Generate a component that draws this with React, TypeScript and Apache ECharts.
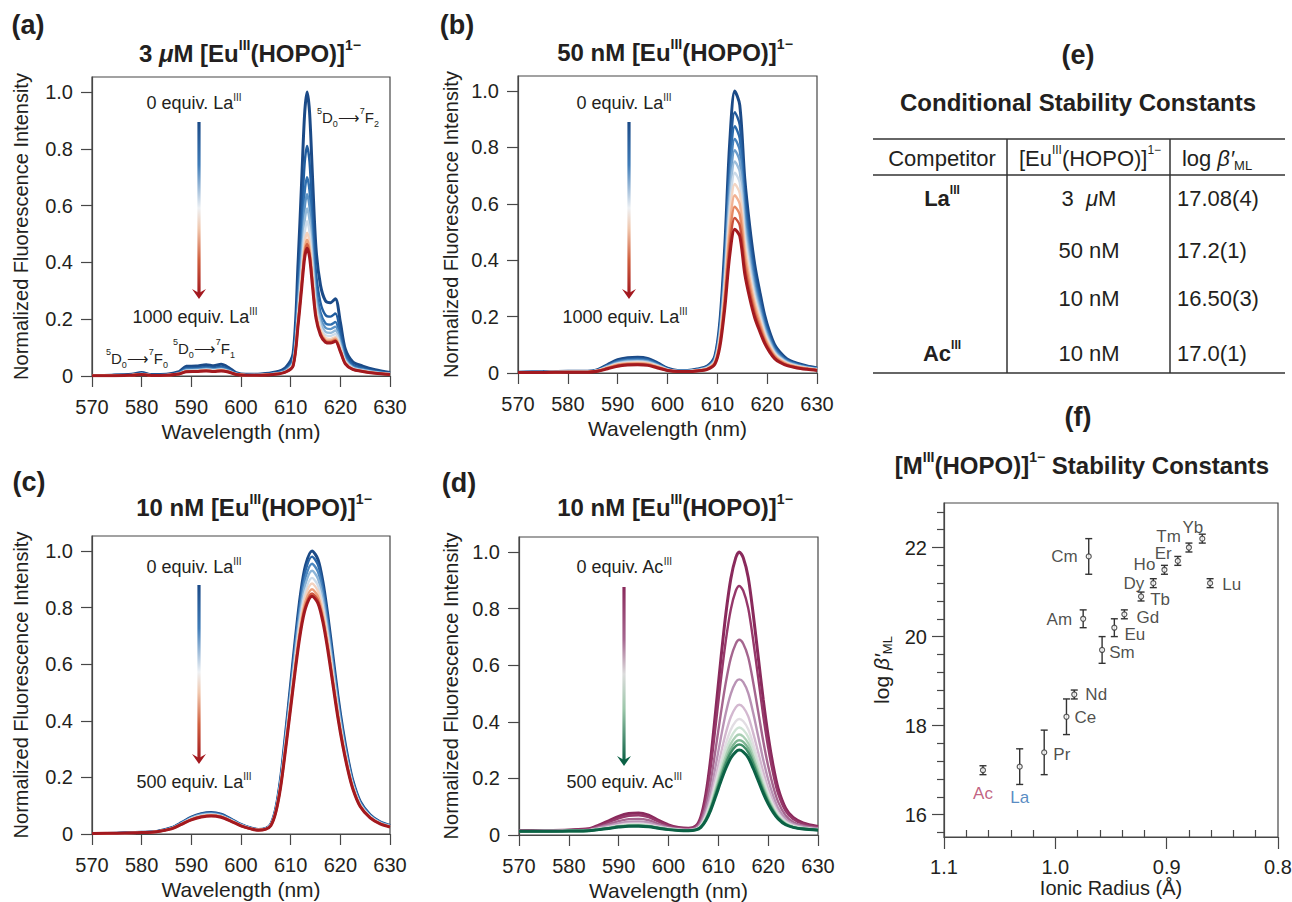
import React, { useEffect, useRef } from 'react';
import * as echarts from 'echarts';

const FONT = "'Liberation Sans', Arial, Helvetica, sans-serif";
const INK = '#231f20';
const AX = '#474747';

// ---------------- Panel (a): 3 uM, La titration ----------------
const wavelengthsA = [570,574,578,580,582,585,587.5,589,591,593,594.5,596,597.5,599,601,604,607,609,610.5,611.5,612.2,612.8,613.3,613.8,614.4,615.1,616,617,618,619,620,621,622.5,624.5,627,630];
const spectraA = [
  [0.002,0.003,0.006,0.012,0.005,0.006,0.015,0.034,0.035,0.040,0.036,0.041,0.030,0.012,0.006,0.007,0.014,0.030,0.080,0.400,0.680,0.920,1.000,0.930,0.700,0.450,0.320,0.265,0.258,0.272,0.190,0.095,0.050,0.035,0.022,0.012],
  [0.002,0.003,0.005,0.010,0.004,0.005,0.012,0.028,0.028,0.032,0.029,0.033,0.024,0.010,0.005,0.006,0.011,0.024,0.065,0.324,0.551,0.745,0.810,0.753,0.567,0.365,0.259,0.215,0.209,0.220,0.154,0.077,0.041,0.028,0.018,0.010],
  [0.002,0.003,0.004,0.008,0.004,0.004,0.011,0.024,0.025,0.028,0.025,0.029,0.021,0.008,0.004,0.005,0.010,0.021,0.056,0.280,0.476,0.644,0.700,0.651,0.490,0.315,0.224,0.186,0.181,0.190,0.133,0.067,0.035,0.025,0.015,0.008],
  [0.002,0.002,0.004,0.008,0.003,0.004,0.010,0.022,0.022,0.026,0.023,0.026,0.019,0.008,0.004,0.004,0.009,0.019,0.051,0.256,0.435,0.589,0.640,0.595,0.448,0.288,0.205,0.170,0.165,0.174,0.122,0.061,0.032,0.022,0.014,0.008],
  [0.001,0.002,0.004,0.007,0.003,0.004,0.009,0.020,0.021,0.024,0.021,0.024,0.018,0.007,0.004,0.004,0.008,0.018,0.047,0.236,0.401,0.543,0.590,0.549,0.413,0.266,0.189,0.156,0.152,0.160,0.112,0.056,0.030,0.021,0.013,0.007],
  [0.001,0.002,0.003,0.007,0.003,0.003,0.008,0.019,0.019,0.022,0.020,0.022,0.016,0.007,0.003,0.004,0.008,0.016,0.044,0.218,0.371,0.501,0.545,0.507,0.382,0.245,0.174,0.144,0.141,0.148,0.104,0.052,0.027,0.019,0.012,0.007],
  [0.001,0.002,0.003,0.006,0.003,0.003,0.008,0.017,0.018,0.020,0.018,0.021,0.015,0.006,0.003,0.004,0.007,0.015,0.040,0.202,0.343,0.465,0.505,0.470,0.354,0.227,0.162,0.134,0.130,0.137,0.096,0.048,0.025,0.018,0.011,0.006],
  [0.001,0.001,0.003,0.006,0.002,0.003,0.007,0.016,0.017,0.019,0.017,0.020,0.014,0.006,0.003,0.003,0.007,0.014,0.038,0.192,0.326,0.442,0.480,0.446,0.336,0.216,0.154,0.127,0.124,0.131,0.091,0.046,0.024,0.017,0.011,0.006],
  [0.001,0.001,0.003,0.006,0.002,0.003,0.007,0.016,0.016,0.019,0.017,0.019,0.014,0.006,0.003,0.003,0.007,0.014,0.037,0.186,0.316,0.428,0.465,0.432,0.326,0.209,0.149,0.123,0.120,0.126,0.088,0.044,0.023,0.016,0.010,0.006],
  [0.001,0.001,0.003,0.005,0.002,0.003,0.007,0.015,0.016,0.018,0.016,0.018,0.014,0.005,0.003,0.003,0.006,0.014,0.036,0.180,0.306,0.414,0.450,0.419,0.315,0.203,0.144,0.119,0.116,0.122,0.086,0.043,0.023,0.016,0.010,0.005],
];
const colorsA = ['#1b4a87','#215d9f','#2f70b0','#5b93c6','#94bad9','#cddcea','#f4d1bb','#efa47c','#d3613f','#a3191f'];

// ---------------- Panel (b): 50 nM, La titration ----------------
const wavelengthsB = [570,575,580,584,586,588,590,592,594,596,598,600,602,604,606,608,609.5,610.5,611.5,612.5,613.5,614.5,615.5,616.5,617.5,618.5,619.5,620.5,621.5,622.5,624,626,628,630];
const spectraB = [
  [0.003,0.004,0.006,0.006,0.012,0.030,0.047,0.054,0.056,0.052,0.036,0.017,0.009,0.009,0.014,0.025,0.060,0.180,0.450,0.820,1.000,0.950,0.690,0.520,0.385,0.290,0.205,0.145,0.100,0.075,0.050,0.035,0.025,0.018],
  [0.003,0.004,0.006,0.006,0.011,0.028,0.043,0.050,0.052,0.048,0.033,0.016,0.008,0.008,0.013,0.023,0.056,0.167,0.416,0.759,0.925,0.879,0.638,0.481,0.356,0.268,0.190,0.134,0.093,0.069,0.046,0.032,0.023,0.017],
  [0.003,0.004,0.005,0.005,0.011,0.026,0.041,0.047,0.049,0.046,0.032,0.015,0.008,0.008,0.012,0.022,0.053,0.158,0.394,0.718,0.875,0.831,0.604,0.455,0.337,0.254,0.179,0.127,0.088,0.066,0.044,0.031,0.022,0.016],
  [0.002,0.003,0.005,0.005,0.010,0.025,0.039,0.045,0.046,0.043,0.030,0.014,0.007,0.007,0.012,0.021,0.050,0.149,0.374,0.681,0.830,0.789,0.573,0.432,0.320,0.241,0.170,0.120,0.083,0.062,0.042,0.029,0.021,0.015],
  [0.002,0.003,0.005,0.005,0.009,0.024,0.037,0.043,0.044,0.041,0.028,0.013,0.007,0.007,0.011,0.020,0.047,0.142,0.356,0.648,0.790,0.751,0.545,0.411,0.304,0.229,0.162,0.115,0.079,0.059,0.040,0.028,0.020,0.014],
  [0.002,0.003,0.005,0.005,0.009,0.023,0.035,0.041,0.042,0.039,0.027,0.013,0.007,0.007,0.011,0.019,0.045,0.135,0.338,0.615,0.750,0.713,0.518,0.390,0.289,0.218,0.154,0.109,0.075,0.056,0.038,0.026,0.019,0.014],
  [0.002,0.003,0.004,0.004,0.009,0.021,0.033,0.038,0.040,0.037,0.026,0.012,0.006,0.006,0.010,0.018,0.043,0.128,0.320,0.582,0.710,0.675,0.490,0.369,0.273,0.206,0.146,0.103,0.071,0.053,0.036,0.025,0.018,0.013],
  [0.002,0.003,0.004,0.004,0.008,0.020,0.031,0.036,0.038,0.035,0.024,0.011,0.006,0.006,0.009,0.017,0.040,0.121,0.302,0.549,0.670,0.637,0.462,0.348,0.258,0.194,0.137,0.097,0.067,0.050,0.034,0.023,0.017,0.012],
  [0.002,0.003,0.004,0.004,0.008,0.019,0.030,0.034,0.035,0.033,0.023,0.011,0.006,0.006,0.009,0.016,0.038,0.113,0.284,0.517,0.630,0.599,0.435,0.328,0.243,0.183,0.129,0.091,0.063,0.047,0.032,0.022,0.016,0.011],
  [0.002,0.002,0.004,0.004,0.007,0.018,0.028,0.032,0.033,0.031,0.021,0.010,0.005,0.005,0.008,0.015,0.035,0.106,0.266,0.484,0.590,0.561,0.407,0.307,0.227,0.171,0.121,0.086,0.059,0.044,0.030,0.021,0.015,0.011],
  [0.002,0.002,0.003,0.003,0.007,0.017,0.026,0.030,0.031,0.029,0.020,0.009,0.005,0.005,0.008,0.014,0.033,0.099,0.248,0.451,0.550,0.523,0.380,0.286,0.212,0.160,0.113,0.080,0.055,0.041,0.028,0.019,0.014,0.010],
  [0.002,0.002,0.003,0.003,0.006,0.015,0.024,0.028,0.029,0.027,0.018,0.009,0.005,0.005,0.007,0.013,0.031,0.092,0.230,0.418,0.510,0.485,0.352,0.265,0.196,0.148,0.105,0.074,0.051,0.038,0.026,0.018,0.013,0.009],
];
const colorsB = ['#1b4a87','#22599a','#2b6aab','#4682bd','#6c9dcb','#9dbedb','#cbdae8','#f3d5c3','#f2b293','#e58862','#c9503a','#a3191f'];

// ---------------- Panel (c): 10 nM, La titration ----------------
const wavelengthsC = [570,575,580,583,586,588,590,592,594,596,598,600,602,603.5,605,606,607,608,609,610,611,612,613,614.3,615.5,616.5,617.5,618.5,619.5,620.5,621.5,622.5,624,626,628,630];
const spectraC = [
  [0.002,0.003,0.006,0.009,0.022,0.040,0.060,0.072,0.076,0.070,0.053,0.034,0.021,0.016,0.020,0.035,0.090,0.200,0.360,0.530,0.700,0.850,0.950,1.000,0.970,0.890,0.770,0.630,0.490,0.370,0.270,0.190,0.115,0.068,0.043,0.030],
  [0.002,0.003,0.006,0.009,0.022,0.039,0.059,0.071,0.074,0.069,0.052,0.033,0.021,0.016,0.020,0.034,0.088,0.196,0.353,0.519,0.686,0.833,0.931,0.980,0.951,0.872,0.755,0.617,0.480,0.363,0.265,0.186,0.113,0.067,0.042,0.029],
  [0.002,0.003,0.006,0.009,0.021,0.038,0.057,0.069,0.073,0.067,0.051,0.032,0.020,0.015,0.019,0.033,0.086,0.191,0.344,0.506,0.669,0.812,0.907,0.955,0.926,0.850,0.735,0.602,0.468,0.353,0.258,0.181,0.110,0.065,0.041,0.029],
  [0.002,0.003,0.006,0.008,0.020,0.037,0.056,0.067,0.071,0.065,0.049,0.032,0.020,0.015,0.019,0.033,0.084,0.186,0.335,0.493,0.651,0.791,0.884,0.930,0.902,0.828,0.716,0.586,0.456,0.344,0.251,0.177,0.107,0.063,0.040,0.028],
  [0.002,0.003,0.005,0.008,0.020,0.036,0.054,0.065,0.069,0.063,0.048,0.031,0.019,0.014,0.018,0.032,0.081,0.181,0.326,0.480,0.634,0.769,0.860,0.905,0.878,0.805,0.697,0.570,0.443,0.335,0.244,0.172,0.104,0.062,0.039,0.027],
  [0.002,0.003,0.005,0.008,0.019,0.035,0.053,0.064,0.067,0.062,0.047,0.030,0.019,0.014,0.018,0.031,0.080,0.177,0.319,0.469,0.620,0.752,0.841,0.885,0.858,0.788,0.681,0.558,0.434,0.327,0.239,0.168,0.102,0.060,0.038,0.027],
  [0.002,0.003,0.005,0.008,0.019,0.035,0.052,0.062,0.066,0.061,0.046,0.029,0.018,0.014,0.017,0.030,0.078,0.173,0.311,0.458,0.606,0.735,0.822,0.865,0.839,0.770,0.666,0.545,0.424,0.320,0.234,0.164,0.099,0.059,0.037,0.026],
  [0.002,0.003,0.005,0.008,0.019,0.034,0.051,0.061,0.065,0.060,0.045,0.029,0.018,0.014,0.017,0.030,0.077,0.170,0.306,0.451,0.595,0.723,0.808,0.850,0.825,0.757,0.655,0.536,0.417,0.315,0.230,0.162,0.098,0.058,0.037,0.026],
  [0.002,0.003,0.005,0.008,0.018,0.034,0.050,0.060,0.064,0.059,0.045,0.029,0.018,0.013,0.017,0.029,0.076,0.168,0.302,0.445,0.588,0.714,0.798,0.840,0.815,0.748,0.647,0.529,0.412,0.311,0.227,0.160,0.097,0.057,0.036,0.025],
];
const colorsC = ['#1b4a87','#2a66a7','#4d88c0','#8cb5d8','#cddcea','#f3d2bf','#eda07a','#cf573e','#a3191f'];

// ---------------- Panel (d): 10 nM, Ac titration ----------------
const wavelengthsD = [570,575,580,584,586,588,590,592,594,596,598,600,602,604,605.5,606.5,607.5,608.5,609.5,610.5,611.5,612.5,613.5,614.2,615,616,617,618,619,620,621,622,623.5,625,627,630];
const spectraD = [
  [0.015,0.016,0.018,0.022,0.035,0.050,0.066,0.076,0.078,0.070,0.052,0.036,0.027,0.024,0.032,0.065,0.145,0.275,0.445,0.620,0.780,0.905,0.980,1.000,0.980,0.910,0.780,0.630,0.480,0.350,0.245,0.165,0.095,0.062,0.043,0.030],
  [0.015,0.016,0.017,0.021,0.032,0.045,0.059,0.068,0.070,0.063,0.047,0.033,0.025,0.023,0.030,0.059,0.129,0.243,0.393,0.546,0.687,0.797,0.863,0.880,0.863,0.801,0.687,0.555,0.423,0.309,0.217,0.146,0.085,0.056,0.039,0.028],
  [0.014,0.015,0.016,0.019,0.028,0.038,0.049,0.056,0.057,0.052,0.039,0.028,0.022,0.020,0.026,0.048,0.103,0.192,0.309,0.429,0.539,0.625,0.676,0.690,0.676,0.628,0.539,0.436,0.333,0.244,0.172,0.117,0.069,0.046,0.033,0.024],
  [0.014,0.014,0.015,0.017,0.025,0.033,0.041,0.047,0.048,0.044,0.034,0.025,0.020,0.019,0.023,0.041,0.084,0.155,0.248,0.343,0.431,0.499,0.540,0.550,0.540,0.501,0.431,0.349,0.267,0.196,0.139,0.095,0.057,0.039,0.029,0.022],
  [0.013,0.014,0.015,0.017,0.022,0.029,0.036,0.041,0.042,0.038,0.030,0.023,0.019,0.017,0.021,0.036,0.072,0.131,0.208,0.287,0.360,0.417,0.451,0.460,0.451,0.419,0.360,0.292,0.224,0.165,0.118,0.081,0.050,0.035,0.026,0.020],
  [0.013,0.014,0.014,0.016,0.021,0.027,0.034,0.038,0.039,0.035,0.028,0.022,0.018,0.017,0.020,0.033,0.066,0.118,0.186,0.257,0.322,0.372,0.402,0.410,0.402,0.374,0.322,0.261,0.201,0.148,0.106,0.074,0.045,0.032,0.024,0.019],
  [0.013,0.013,0.014,0.016,0.021,0.026,0.032,0.036,0.037,0.034,0.027,0.021,0.018,0.016,0.019,0.032,0.061,0.110,0.173,0.238,0.298,0.344,0.372,0.380,0.372,0.346,0.298,0.242,0.186,0.138,0.099,0.069,0.043,0.031,0.024,0.019],
  [0.013,0.013,0.014,0.015,0.020,0.025,0.031,0.034,0.035,0.032,0.026,0.020,0.017,0.016,0.019,0.030,0.058,0.103,0.162,0.223,0.278,0.322,0.348,0.355,0.348,0.324,0.278,0.226,0.174,0.129,0.093,0.065,0.041,0.029,0.023,0.018],
  [0.013,0.013,0.014,0.015,0.020,0.024,0.030,0.033,0.034,0.031,0.025,0.020,0.017,0.016,0.019,0.029,0.055,0.098,0.154,0.211,0.263,0.304,0.329,0.335,0.329,0.306,0.263,0.214,0.165,0.123,0.088,0.062,0.039,0.028,0.022,0.018],
  [0.013,0.013,0.014,0.015,0.019,0.024,0.029,0.032,0.033,0.030,0.024,0.019,0.017,0.016,0.018,0.029,0.053,0.094,0.147,0.202,0.252,0.291,0.314,0.320,0.314,0.292,0.252,0.205,0.158,0.117,0.085,0.060,0.038,0.028,0.022,0.018],
  [0.013,0.013,0.014,0.015,0.019,0.023,0.028,0.031,0.031,0.029,0.024,0.019,0.016,0.015,0.018,0.027,0.051,0.089,0.138,0.189,0.235,0.272,0.294,0.300,0.294,0.273,0.235,0.192,0.148,0.110,0.080,0.057,0.036,0.027,0.021,0.017],
];
const colorsD = ['#8a2a5c','#96386a','#a5668f','#b993b5','#d3b8d0','#e2dde3','#cfe3d5','#a9cfb4','#7db593','#3f8e67','#0b6145'];

// ---------------- Panel (e): table ----------------
const competitors = ['La', '', '', 'Ac'];
const euConcentration = ['3 μM', '50 nM', '10 nM', '10 nM'];
const logBetaConditional = ['17.08(4)', '17.2(1)', '16.50(3)', '17.0(1)'];

// ---------------- Panel (f): stability constants ----------------
const ions = ['Ac','La','Pr','Ce','Nd','Sm','Eu','Gd','Am','Cm','Tb','Dy','Ho','Er','Tm','Yb','Lu'];
const ionicRadius = [1.065,1.032,1.010,0.990,0.983,0.958,0.947,0.938,0.975,0.970,0.923,0.912,0.902,0.890,0.880,0.868,0.861];
const logBeta = [17.0,17.08,17.4,18.2,18.7,19.7,20.2,20.5,20.4,21.8,20.9,21.2,21.5,21.7,22.0,22.2,21.2];
const logBetaErr = [0.1,0.4,0.5,0.4,0.1,0.3,0.2,0.1,0.2,0.4,0.1,0.1,0.1,0.1,0.1,0.1,0.1];

const spectrumTicks = [0, 0.2, 0.4, 0.6, 0.8, 1.0];
const radiusTicks = [0.8, 0.9, 1.0, 1.1];
const betaTicks = [16, 18, 20, 22];

// label placement (style only)
const labelPos = ['bottom','bottom','right','right','right','right','right','right','left','left','right','left','left','left','left','left','right'];
const labelDist = [12,19,6,5,8,4,7,9,8,8,6,6,6,3,5,2,9];
const labelDx = [0,0,0,0,0,0,0,0,0,0,0,0,0,0,0,6,0];
const labelDy = [0,0,2,1,0,3,7,3,1,0,3,0,-5,-7,-11,-11,1];
const labelColor: Record<string, string> = { Ac: '#b23a62', La: '#2d6db3' };

function buildOption() {
  const panels = [
    { grid: { left: 92, top: 77, width: 298, height: 299 }, gapY: 61, wl: wavelengthsA, sp: spectraA, col: colorsA },
    { grid: { left: 518, top: 76, width: 299, height: 297 }, gapY: 57, wl: wavelengthsB, sp: spectraB, col: colorsB },
    { grid: { left: 92, top: 536, width: 298, height: 298 }, gapY: 61, wl: wavelengthsC, sp: spectraC, col: colorsC },
    { grid: { left: 519, top: 537, width: 299, height: 298 }, gapY: 58, wl: wavelengthsD, sp: spectraD, col: colorsD },
  ];
  const axisLine = { show: true, onZero: false, lineStyle: { color: AX, width: 1.2 } };
  const tickLine = { color: AX, width: 1.2 };
  const labelStyle = { fontSize: 20, color: INK, fontFamily: FONT };
  const nameStyle = { fontSize: 21, color: INK, fontFamily: FONT };

  const grids: any[] = panels.map((p) => ({
    ...p.grid, show: true, borderColor: AX, borderWidth: 1.2, backgroundColor: 'transparent', containLabel: false, outerBoundsMode: 'none',
  }));
  grids.push({ left: 944, top: 503, width: 334, height: 334, show: true, borderColor: AX, borderWidth: 1.2, containLabel: false, outerBoundsMode: 'none' });

  const xAxes: any[] = panels.map((p, i) => ({
    gridIndex: i, type: 'value', min: 570, max: 630, interval: 10,
    axisLine, axisTick: { show: true, length: 11, lineStyle: tickLine },
    axisLabel: { ...labelStyle, margin: 21 }, splitLine: { show: false },
    name: 'Wavelength (nm)', nameLocation: 'middle', nameGap: 45, nameTextStyle: nameStyle,
  }));
  const yAxes: any[] = panels.map((p, i) => ({
    gridIndex: i, type: 'value', min: 0, max: 1.053,
    axisLine, axisTick: { show: true, length: 11, lineStyle: tickLine, customValues: spectrumTicks },
    axisLabel: { ...labelStyle, margin: 19, customValues: spectrumTicks, formatter: (v: number) => (v === 0 ? '0' : v.toFixed(1)) },
    splitLine: { show: false },
    name: 'Normalized Fluorescence Intensity', nameLocation: 'middle', nameGap: p.gapY, nameTextStyle: { ...nameStyle, fontSize: 20 },
  }));

  const minorX: number[] = [];
  for (let i = 41; i < 55; i++) if (i % 5) minorX.push(+(i * 0.02).toFixed(2));
  const minorY: number[] = [];
  for (let i = 39; i <= 57; i++) { const v = +(i * 0.4).toFixed(1); if (Math.abs(v / 2 - Math.round(v / 2)) > 1e-6) minorY.push(v); }

  xAxes.push({
    gridIndex: 4, type: 'value', min: 0.8, max: 1.1, inverse: true, position: 'bottom',
    axisLine, axisTick: { show: true, length: 12, lineStyle: tickLine, customValues: radiusTicks },
    axisLabel: { ...labelStyle, margin: 20, customValues: radiusTicks, formatter: (v: number) => v.toFixed(1) },
    splitLine: { show: false },
    name: 'Ionic Radius (Å)', nameLocation: 'middle', nameGap: 41, nameTextStyle: { ...nameStyle, fontSize: 20 },
  });
  xAxes.push({
    gridIndex: 4, type: 'value', min: 0.8, max: 1.1, inverse: true, position: 'bottom',
    axisLine: { show: false }, axisTick: { show: true, inside: true, length: 7, lineStyle: tickLine, customValues: minorX },
    axisLabel: { show: false }, splitLine: { show: false },
  });
  yAxes.push({
    gridIndex: 4, type: 'value', min: 15.5, max: 23, position: 'left',
    axisLine, axisTick: { show: true, length: 12, lineStyle: tickLine, customValues: betaTicks },
    axisLabel: { ...labelStyle, margin: 17, customValues: betaTicks },
    splitLine: { show: false },
    name: '{n|log }{i|β′}{u|ML}', nameLocation: 'middle', nameGap: 50,
    nameTextStyle: {
      color: INK, fontFamily: FONT, fontSize: 21,
      rich: {
        n: { fontSize: 21, color: INK, fontFamily: FONT, lineHeight: 26 },
        i: { fontSize: 21, color: INK, fontFamily: FONT, fontStyle: 'italic', lineHeight: 26 },
        u: { fontSize: 13, color: INK, fontFamily: FONT, lineHeight: 13, verticalAlign: 'bottom' },
      },
    },
  });
  yAxes.push({
    gridIndex: 4, type: 'value', min: 15.5, max: 23, position: 'left',
    axisLine: { show: false }, axisTick: { show: true, length: 7, lineStyle: tickLine, customValues: minorY },
    axisLabel: { show: false }, splitLine: { show: false },
  });

  const series: any[] = [];
  panels.forEach((p, i) => {
    p.sp.forEach((vals, j) => {
      const last = j === p.sp.length - 1;
      series.push({
        type: 'line', xAxisIndex: i, yAxisIndex: i,
        data: p.wl.map((w, k) => [w, vals[k]]),
        showSymbol: false, symbol: 'none', smooth: 0.3, silent: true,
        lineStyle: { color: p.col[j], width: j === 0 || last ? 3 : 2.4 },
      });
    });
  });

  series.push({
    type: 'custom', xAxisIndex: 4, yAxisIndex: 4, silent: true,
    data: ionicRadius.map((x, i) => [x, logBeta[i], logBetaErr[i]]),
    encode: { x: 0, y: 1 },
    renderItem: (params: any, api: any) => {
      const x = api.value(0), y = api.value(1), e = api.value(2);
      const t = api.coord([x, y + e]);
      const b = api.coord([x, y - e]);
      const hw = 3.5;
      const st = { stroke: '#333', lineWidth: 1.4 };
      return {
        type: 'group',
        children: [
          { type: 'line', shape: { x1: t[0], y1: t[1], x2: b[0], y2: b[1] }, style: st },
          { type: 'line', shape: { x1: t[0] - hw, y1: t[1], x2: t[0] + hw, y2: t[1] }, style: st },
          { type: 'line', shape: { x1: b[0] - hw, y1: b[1], x2: b[0] + hw, y2: b[1] }, style: st },
        ],
      };
    },
  });
  series.push({
    type: 'scatter', xAxisIndex: 4, yAxisIndex: 4, symbol: 'circle', symbolSize: 5, silent: true,
    itemStyle: { color: '#fff', borderColor: '#333', borderWidth: 1.2 },
    label: { show: true, formatter: '{b}', fontSize: 17, fontFamily: FONT, color: INK },
    data: ions.map((name, i) => ({
      name,
      value: [ionicRadius[i], logBeta[i]],
      label: { position: labelPos[i], distance: labelDist[i], offset: [labelDx[i], labelDy[i]], color: labelColor[name] || INK },
    })),
  });

  // ---------- graphic annotations ----------
  const titleRich = {
    b: { fontFamily: FONT, fontSize: 24, fontWeight: 'bold', fill: INK, lineHeight: 30 },
    bi: { fontFamily: FONT, fontSize: 24, fontWeight: 'bold', fontStyle: 'italic', fill: INK, lineHeight: 30 },
    s: { fontFamily: FONT, fontSize: 14, fontWeight: 'bold', fill: INK, lineHeight: 15, verticalAlign: 'top' },
  };
  const annRich = {
    n: { fontFamily: FONT, fontSize: 18, fill: INK, lineHeight: 22 },
    s: { fontFamily: FONT, fontSize: 10, fill: INK, lineHeight: 11, verticalAlign: 'top' },
  };
  const specRich = {
    n: { fontFamily: FONT, fontSize: 15, fill: INK, lineHeight: 22 },
    a: { fontFamily: FONT, fontSize: 15, fill: INK, lineHeight: 22 },
    s: { fontFamily: FONT, fontSize: 9, fill: INK, lineHeight: 10, verticalAlign: 'top' },
    u: { fontFamily: FONT, fontSize: 9, fill: INK, lineHeight: 10, verticalAlign: 'bottom' },
  };
  const tableRich = {
    n: { fontFamily: FONT, fontSize: 22, fill: INK, lineHeight: 28 },
    b: { fontFamily: FONT, fontSize: 22, fontWeight: 'bold', fill: INK, lineHeight: 28 },
    i: { fontFamily: FONT, fontSize: 22, fontStyle: 'italic', fill: INK, lineHeight: 28 },
    s: { fontFamily: FONT, fontSize: 12, fill: INK, lineHeight: 13, verticalAlign: 'top' },
    sb: { fontFamily: FONT, fontSize: 12, fontWeight: 'bold', fill: INK, lineHeight: 13, verticalAlign: 'top' },
    u: { fontFamily: FONT, fontSize: 13, fill: INK, lineHeight: 14, verticalAlign: 'bottom' },
  };
  const txt = (x: number, y: number, text: string, rich: any, align = 'center') => ({
    type: 'text', x, y, z: 100,
    style: { text, rich, align, verticalAlign: 'middle', fontFamily: FONT, fill: INK },
  });
  const letter = (x: number, y: number, s: string) => ({
    type: 'text', x, y, z: 100,
    style: { text: s, fontFamily: FONT, fontSize: 27, fontWeight: 'bold', fill: INK, align: 'center', verticalAlign: 'middle' },
  });
  const arrow = (x: number, y1: number, y2: number, stops: any[], head: string) => [
    { type: 'rect', z: 90, shape: { x: x - 1.6, y: y1, width: 3.2, height: y2 - y1 - 5 }, style: { fill: new echarts.graphic.LinearGradient(0, 0, 0, 1, stops) } },
    { type: 'polygon', z: 91, shape: { points: [[x - 7, y2 - 10], [x, y2], [x + 7, y2 - 10], [x, y2 - 6]] }, style: { fill: head } },
  ];
  const laStops = [
    { offset: 0, color: '#1b4a87' }, { offset: 0.25, color: '#3f7cb8' }, { offset: 0.5, color: '#eef1f4' },
    { offset: 0.62, color: '#f0c7ad' }, { offset: 0.8, color: '#d0603f' }, { offset: 1, color: '#a3191f' },
  ];
  const acStops = [
    { offset: 0, color: '#8a2a5c' }, { offset: 0.3, color: '#a5668f' }, { offset: 0.5, color: '#dcdcdc' },
    { offset: 0.7, color: '#9cc7aa' }, { offset: 1, color: '#0b6145' },
  ];
  const hopoTitle = (prefix: string) => `${prefix}{b|[Eu}{s|III}{b|(HOPO)]}{s|1−}`;
  const line = (x1: number, y1: number, x2: number, y2: number) => ({
    type: 'line', z: 100, shape: { x1, y1, x2, y2 }, style: { stroke: '#333', lineWidth: 1.5 },
  });
  const transition = (j: number) => `{s|5}{n|D}{u|0}{a|⟶}{s|7}{n|F}{u|${j}}`;

  const rowsY = [198, 250, 298, 353];
  const concRich = (c: string) => (c.includes('μ') ? `{n|${c.split('μ')[0]} }{i|μ}{n|${c.split('μ')[1]}}` : `{n|${c}}`);

  const elements: any[] = [
    letter(28, 25, '(a)'), letter(457, 25, '(b)'), letter(29, 482, '(c)'), letter(459, 483, '(d)'),
    letter(1078, 55, '(e)'), letter(1078, 417, '(f)'),
    txt(250, 53, hopoTitle('{b|3 }{bi|μ}{b|M }'), titleRich),
    txt(675, 52, hopoTitle('{b|50 nM }'), titleRich),
    txt(254, 507, hopoTitle('{b|10 nM }'), titleRich),
    txt(675, 507, hopoTitle('{b|10 nM }'), titleRich),
    txt(1078, 102, '{b|Conditional Stability Constants}', titleRich),
    txt(1082, 465, '{b|[M}{s|III}{b|(HOPO)]}{s|1−}{b| Stability Constants}', titleRich),
    // panel a
    txt(194, 103, '{n|0 equiv. La}{s|III}', annRich),
    txt(195, 317, '{n|1000 equiv. La}{s|III}', annRich),
    ...arrow(199, 122, 299, laStops, '#a3191f'),
    txt(348, 117, transition(2), specRich),
    txt(137, 358, transition(0), specRich),
    txt(204, 348, transition(1), specRich),
    // panel b
    txt(624, 103, '{n|0 equiv. La}{s|III}', annRich),
    txt(625, 317, '{n|1000 equiv. La}{s|III}', annRich),
    ...arrow(629, 122, 299, laStops, '#a3191f'),
    // panel c
    txt(194, 567, '{n|0 equiv. La}{s|III}', annRich),
    txt(194, 782, '{n|500 equiv. La}{s|III}', annRich),
    ...arrow(199, 585, 764, laStops, '#a3191f'),
    // panel d
    txt(624, 567, '{n|0 equiv. Ac}{s|III}', annRich),
    txt(624, 782, '{n|500 equiv. Ac}{s|III}', annRich),
    ...arrow(624, 587, 766, acStops, '#0b6145'),
    // table (e)
    line(873, 139, 1285, 139), line(873, 175, 1285, 175), line(873, 373, 1285, 373),
    line(1007, 139, 1007, 373), line(1170, 139, 1170, 373),
    txt(942, 158, '{n|Competitor}', tableRich),
    txt(1090, 158, '{n|[Eu}{s|III}{n|(HOPO)]}{s|1−}', tableRich),
    txt(1217, 158, '{n|log }{i|β′}{u|ML}', tableRich),
  ];
  rowsY.forEach((y, r) => {
    if (competitors[r]) elements.push(txt(942, y, `{b|${competitors[r]}}{sb|III}`, tableRich));
    elements.push(txt(1089, y, concRich(euConcentration[r]), tableRich));
    elements.push(txt(1177, y, `{n|${logBetaConditional[r]}}`, tableRich, 'left'));
  });

  return {
    animation: false,
    backgroundColor: '#ffffff',
    grid: grids,
    xAxis: xAxes,
    yAxis: yAxes,
    series,
    graphic: { elements },
  };
}

export default function App() {
  const ref = useRef<HTMLDivElement>(null);
  useEffect(() => {
    if (!ref.current) return;
    const chart = echarts.init(ref.current, null, { renderer: 'svg' });
    chart.setOption(buildOption() as any);
    return () => chart.dispose();
  }, []);
  return (
    <div
      ref={ref}
      style={{ position: 'fixed', left: 0, top: 0, width: 1292, height: 902, background: '#fff' }}
    />
  );
}
